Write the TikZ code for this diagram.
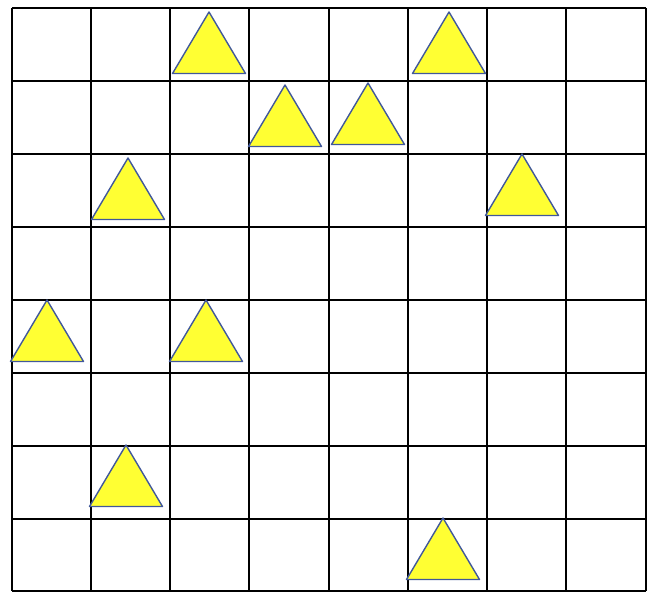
\documentclass[tikz,border=0pt]{standalone}
\usepackage{tikz}

\definecolor{triyellow}{HTML}{FFFF33}
\definecolor{triedge}{HTML}{41589A}

\begin{document}
\begin{tikzpicture}[x=1pt,y=-1pt,
cell/.style={draw=black,line width=2pt},
tri/.style={fill=triyellow,draw=triedge,line width=1.4pt,line join=round}]
\useasboundingbox (0,0) rectangle (654,604);
% grid of 8 x 8 cells
\foreach \gx in {12,91,170,249,329,408,487,566,646}
  \draw[cell] (\gx,8) -- (\gx,591);
\foreach \gy in {8,81,154,227,300,373,446,519,591}
  \draw[cell] (12,\gy) -- (646,\gy);
% triangles, apex given
\foreach \ax/\ay in {209/12,449/12,285/85,368/83,128/158,522/154,47/300,206/300,126/445,443/518} {
  \draw[tri] (\ax,\ay) -- (\ax+36.5,\ay+61.5) -- (\ax-36.5,\ay+61.5) -- cycle;
}
\end{tikzpicture}
\end{document}
